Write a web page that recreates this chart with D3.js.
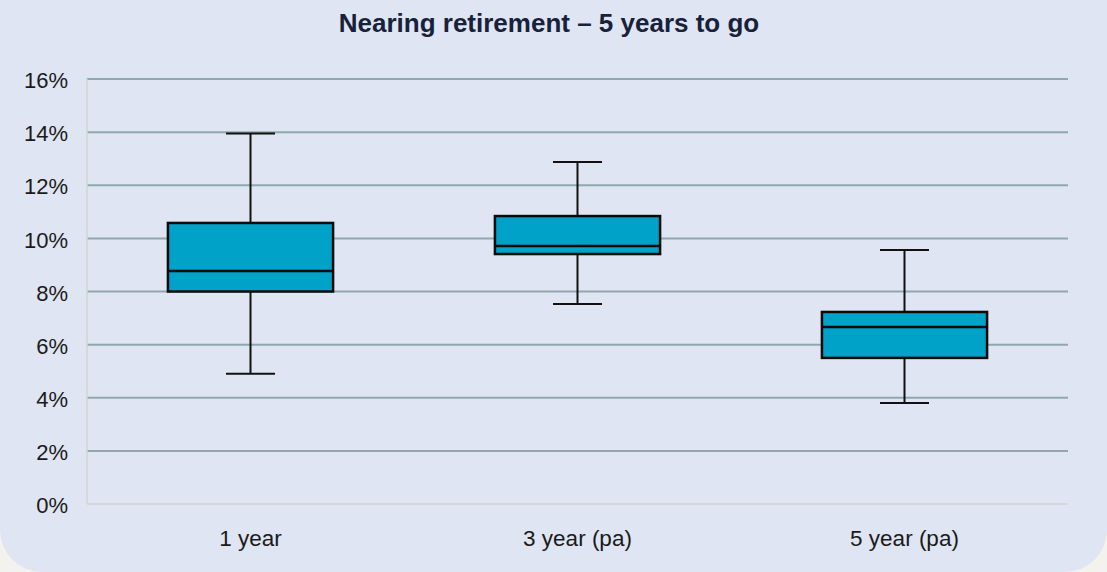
<!DOCTYPE html>
<html>
<head>
<meta charset="utf-8">
<script src="https://cdn.jsdelivr.net/npm/d3@7"></script>
<style>
  html, body { margin: 0; padding: 0; background: #f3f2ee; }
  svg { display: block; }
</style>
</head>
<body>
<svg id="chart" width="1107" height="572"></svg>
<script>
// box plot values (percent)
const categories = ['1 year', '3 year (pa)', '5 year (pa)'];
const whiskerLow = [4.9, 7.53, 3.8];
const quart1 = [8.0, 9.41, 5.5];
const medians = [8.77, 9.71, 6.66];
const quart3 = [10.58, 10.84, 7.23];
const whiskerHigh = [13.95, 12.88, 9.56];
const yTicks = [0, 2, 4, 6, 8, 10, 12, 14, 16];

const width = 1107, height = 572;
const margin = {top: 79, right: 39, bottom: 68, left: 87};

const svg = d3.select('#chart');

// panel background, rounded only at the bottom
svg.append('rect')
  .attr('x', 0).attr('y', -60)
  .attr('width', width).attr('height', height + 60)
  .attr('rx', 42).attr('ry', 42)
  .style('fill', '#dfe5f2');

svg.append('text')
  .attr('x', 549).attr('y', 32)
  .attr('text-anchor', 'middle')
  .style('font-family', 'Liberation Sans, Arial, sans-serif')
  .style('font-weight', 'bold')
  .style('font-size', '26px')
  .style('fill', '#18213a')
  .text('Nearing retirement – 5 years to go');

const x = d3.scaleBand()
  .domain(categories)
  .range([margin.left, width - margin.right])
  .paddingInner(0).paddingOuter(0);

const y = d3.scaleLinear()
  .domain([0, 16])
  .range([height - margin.bottom, margin.top]);

// gridlines
svg.append('g')
  .selectAll('line')
  .data(yTicks.filter(d => d > 0))
  .enter().append('line')
  .attr('x1', margin.left).attr('x2', width - margin.right)
  .attr('y1', d => y(d)).attr('y2', d => y(d))
  .style('stroke', '#8fa8ae')
  .style('stroke-width', 2);

// axis lines
svg.append('line')
  .attr('x1', margin.left).attr('x2', margin.left)
  .attr('y1', y(16)).attr('y2', y(0))
  .style('stroke', '#d2d4d6').style('stroke-width', 1.5);
svg.append('line')
  .attr('x1', margin.left).attr('x2', width - margin.right)
  .attr('y1', y(0)).attr('y2', y(0))
  .style('stroke', '#d2d4d6').style('stroke-width', 1.5);

// y tick labels
svg.append('g')
  .selectAll('text')
  .data(yTicks)
  .enter().append('text')
  .attr('x', 68)
  .attr('y', d => y(d))
  .attr('dy', '0.42em')
  .attr('text-anchor', 'end')
  .style('font-family', 'Liberation Sans, Arial, sans-serif')
  .style('font-size', '22px')
  .style('fill', '#1a1a1a')
  .text(d => d + '%');

// x labels
svg.append('g')
  .selectAll('text')
  .data(categories)
  .enter().append('text')
  .attr('x', d => x(d) + x.bandwidth() / 2)
  .attr('y', 546)
  .attr('text-anchor', 'middle')
  .style('font-family', 'Liberation Sans, Arial, sans-serif')
  .style('font-size', '22.5px')
  .style('fill', '#1a1a1a')
  .text(d => d);

const boxes = categories.map((c, i) => ({
  cat: c, lo: whiskerLow[i], q1: quart1[i], med: medians[i], q3: quart3[i], hi: whiskerHigh[i]
}));

const boxW = x.bandwidth() * 0.505;
const capW = 49;

const g = svg.append('g')
  .selectAll('g')
  .data(boxes)
  .enter().append('g')
  .attr('transform', d => `translate(${x(d.cat) + x.bandwidth() / 2},0)`);

g.append('line')
  .attr('x1', 0).attr('x2', 0)
  .attr('y1', d => y(d.hi)).attr('y2', d => y(d.q3))
  .style('stroke', '#111').style('stroke-width', 2);
g.append('line')
  .attr('x1', 0).attr('x2', 0)
  .attr('y1', d => y(d.q1)).attr('y2', d => y(d.lo))
  .style('stroke', '#111').style('stroke-width', 2);
g.append('line')
  .attr('x1', -capW / 2).attr('x2', capW / 2)
  .attr('y1', d => y(d.hi)).attr('y2', d => y(d.hi))
  .style('stroke', '#111').style('stroke-width', 2);
g.append('line')
  .attr('x1', -capW / 2).attr('x2', capW / 2)
  .attr('y1', d => y(d.lo)).attr('y2', d => y(d.lo))
  .style('stroke', '#111').style('stroke-width', 2);

g.append('rect')
  .attr('x', -boxW / 2)
  .attr('y', d => y(d.q3))
  .attr('width', boxW)
  .attr('height', d => y(d.q1) - y(d.q3))
  .style('fill', '#00a2c8')
  .style('stroke', '#0a0a0a')
  .style('stroke-width', 2.5);

g.append('line')
  .attr('x1', -boxW / 2).attr('x2', boxW / 2)
  .attr('y1', d => y(d.med)).attr('y2', d => y(d.med))
  .style('stroke', '#0a0a0a').style('stroke-width', 2.5);
</script>
</body>
</html>
